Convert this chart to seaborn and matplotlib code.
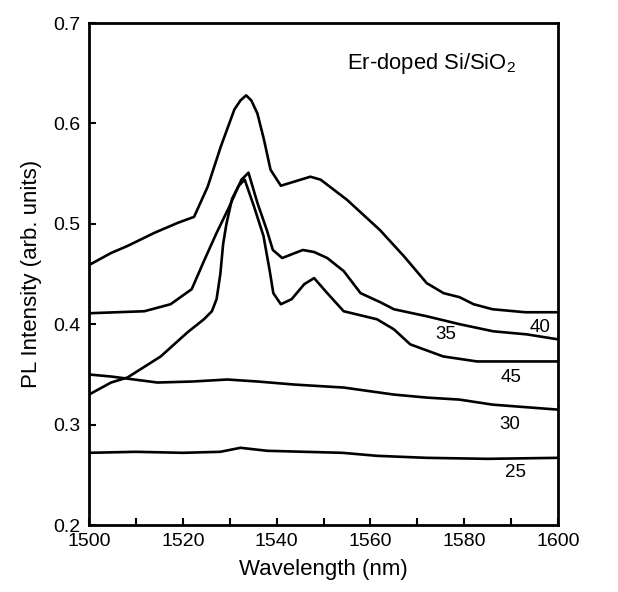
import numpy as np
import pandas as pd
import matplotlib
matplotlib.use("Agg")
import matplotlib.pyplot as plt
import seaborn as sns

# ---- data ----
wl_25 = [1500, 1510, 1520, 1528, 1532.3, 1538, 1546, 1554, 1561.4, 1572, 1585, 1600]
pl_25 = [0.272, 0.273, 0.272, 0.273, 0.277, 0.274, 0.273, 0.272, 0.269, 0.267, 0.266, 0.267]

wl_30 = [1500, 1504.7, 1514.6, 1522, 1529.5, 1536, 1543.7, 1554.3, 1565, 1572, 1579, 1586, 1600]
pl_30 = [0.350, 0.348, 0.342, 0.343, 0.345, 0.343, 0.340, 0.337, 0.330, 0.327, 0.325, 0.320, 0.315]

wl_35 = [1500, 1511.8, 1517.4, 1521.9, 1524.6, 1527.2, 1529.9, 1532.5, 1534, 1535.9, 1537.9,
         1539.2, 1541.2, 1543.9, 1545.6, 1548, 1550.8, 1554.3, 1557.9, 1562.1, 1565, 1572,
         1579.1, 1586.2, 1593.3, 1600]
pl_35 = [0.411, 0.413, 0.420, 0.435, 0.464, 0.491, 0.517, 0.544, 0.551, 0.521, 0.494,
         0.474, 0.466, 0.471, 0.474, 0.472, 0.466, 0.453, 0.431, 0.422, 0.415, 0.408,
         0.400, 0.393, 0.390, 0.385]

wl_40 = [1500, 1504.7, 1508.2, 1513.9, 1518.9, 1522.4, 1525.3, 1528.1, 1531, 1532.3, 1533.5,
         1534.6, 1535.9, 1537.3, 1538.7, 1540.9, 1543.7, 1547.2, 1549.4, 1555, 1562, 1567.1,
         1572, 1575.6, 1579, 1582, 1586, 1593, 1600]
pl_40 = [0.459, 0.471, 0.478, 0.491, 0.501, 0.507, 0.537, 0.577, 0.614, 0.623, 0.628,
         0.623, 0.610, 0.584, 0.554, 0.538, 0.542, 0.547, 0.544, 0.524, 0.494, 0.468,
         0.441, 0.431, 0.427, 0.420, 0.415, 0.412, 0.412]

wl_45 = [1500, 1504.7, 1508.2, 1515.3, 1521, 1524.5, 1526.2, 1527.2, 1528, 1528.6, 1529.3,
         1530.5, 1531.9, 1533.2, 1535.2, 1537.2, 1538.5, 1539.3, 1540.9, 1543.2, 1545.9,
         1548, 1550.8, 1554.3, 1561.4, 1565, 1568.5, 1575.5, 1582.7, 1600]
pl_45 = [0.330, 0.342, 0.347, 0.368, 0.392, 0.405, 0.413, 0.425, 0.450, 0.480, 0.500,
         0.525, 0.538, 0.544, 0.517, 0.488, 0.454, 0.431, 0.420, 0.425, 0.440,
         0.446, 0.431, 0.413, 0.405, 0.395, 0.380, 0.368, 0.363, 0.363]

series = {"25": (wl_25, pl_25), "30": (wl_30, pl_30), "35": (wl_35, pl_35),
          "40": (wl_40, pl_40), "45": (wl_45, pl_45)}

# curve labels (text, x, y)
curve_labels = [("40", 1596.2, 0.397), ("35", 1576, 0.390), ("45", 1590, 0.347),
                ("30", 1589.8, 0.300), ("25", 1590.9, 0.252)]

x_ticks = list(range(1500, 1601, 10))
x_labels = [str(t) if t % 20 == 0 else "" for t in x_ticks]
y_ticks = [0.2, 0.3, 0.4, 0.5, 0.6, 0.7]

frames = []
for name, (wl, pl) in series.items():
    frames.append(pd.DataFrame({"wl": wl, "pl": pl, "sample": name}))
df = pd.concat(frames, ignore_index=True)

sns.set_theme(style="white")
plt.rcParams["font.family"] = ["Liberation Sans", "DejaVu Sans"]
plt.rcParams["mathtext.fontset"] = "custom"
plt.rcParams["mathtext.rm"] = "Liberation Sans"
plt.rcParams["mathtext.it"] = "Liberation Sans"

fig = plt.figure(figsize=(6.18, 5.92), dpi=100)
ax = fig.add_axes([0.144, 0.113, 0.759, 0.848])

sns.lineplot(data=df, x="wl", y="pl", units="sample", estimator=None,
             color="black", lw=1.9, sort=False, ax=ax, legend=False)

for txt, x, y in curve_labels:
    ax.text(x, y, txt, fontsize=13.5, ha="center", va="center", color="black")

ax.text(1555, 0.66, "Er-doped Si/SiO$_2$", fontsize=15.8, ha="left", va="center",
        color="black")

ax.set_xlim(1500, 1600)
ax.set_ylim(0.2, 0.7)
ax.set_xticks(x_ticks)
ax.set_xticklabels(x_labels)
ax.set_yticks(y_ticks)
ax.set_yticklabels([f"{v:.1f}" for v in y_ticks])
ax.tick_params(direction="in", length=5, width=1.5, labelsize=14, colors="black",
               bottom=True, left=True, pad=6)
ax.set_xlabel("Wavelength (nm)", fontsize=16, color="black", labelpad=6)
ax.set_ylabel("PL Intensity (arb. units)", fontsize=16, color="black", labelpad=8)
for s in ax.spines.values():
    s.set_linewidth(2)
    s.set_color("black")

fig.savefig("out.png", dpi=100, facecolor="white")
